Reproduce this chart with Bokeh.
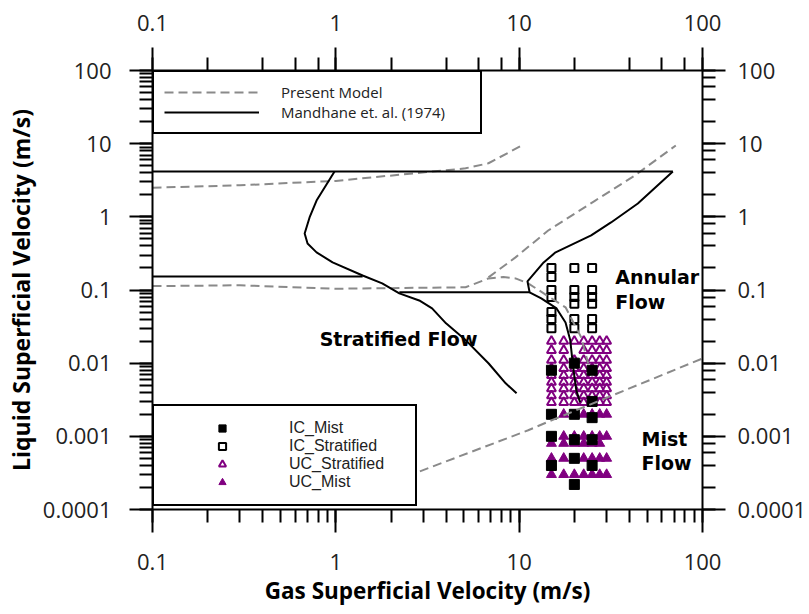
from bokeh.plotting import figure
from bokeh.models import (LogAxis, LogTicker, CustomJSTickFormatter, Legend,
                          LegendItem, Label)
from bokeh.embed import file_html
from bokeh.resources import INLINE

# ---------------- data ----------------
# Present model boundaries (grey dashed)
pm_upper_x = [0.1, 0.3, 1.0, 5.1, 6.8, 10.3]
pm_upper_y = [2.5, 2.7, 3.1, 4.6, 5.4, 9.4]
pm_lower_x = [0.1, 0.3, 1.0, 5.1, 6.8, 8.2, 9.55, 11.2, 17.9, 21.8, 23.8]
pm_lower_y = [0.113, 0.116, 0.104, 0.109, 0.144, 0.15, 0.144, 0.123, 0.058, 0.0225, 0.0099]
pm_annular_x = [6.8, 9.55, 14.4, 26.0, 42.8, 71.5]
pm_annular_y = [0.149, 0.279, 0.65, 1.67, 3.68, 9.45]
pm_mist_x = [1.5, 2.67, 11.2, 14.1, 100.0]
pm_mist_y = [1.7e-4, 3.1e-4, 1.21e-3, 1.55e-3, 0.0116]

# Mandhane et al. (1974) boundaries (solid black)
md_top_x = [0.1, 68.9]
md_top_y = [4.17, 4.17]
md_annular_x = [68.9, 44.4, 31.7, 24.7, 15.8, 13.6, 11.1, 11.4, 13.2, 16.0, 17.9, 19.0, 19.7, 20.5, 21.5]
md_annular_y = [4.17, 1.52, 0.838, 0.557, 0.327, 0.238, 0.131, 0.093, 0.0768, 0.056, 0.036, 0.0205, 0.00877, 0.00425, 0.00291]
md_wavy_x = [0.1, 1.40]
md_wavy_y = [0.153, 0.153]
md_strat_x = [2.22, 11.4]
md_strat_y = [0.093, 0.093]
md_bubble_x = [0.984, 0.785, 0.719, 0.676, 0.701, 0.785, 0.96, 1.40, 1.79, 2.22, 2.85, 3.35, 3.99, 5.12, 6.82, 8.44, 9.68]
md_bubble_y = [4.17, 1.67, 0.98, 0.593, 0.433, 0.327, 0.238, 0.158, 0.123, 0.090, 0.072, 0.056, 0.035, 0.0205, 0.0099, 0.0053, 0.00387]

# Experimental points
ic_strat_x = [15, 15, 15, 15, 15, 15, 15, 20, 20, 20, 20, 20, 20, 25, 25, 25, 25, 25, 25]
ic_strat_y = [0.2, 0.15, 0.1, 0.08, 0.05, 0.04, 0.03,
              0.2, 0.1, 0.08, 0.065, 0.04, 0.03,
              0.2, 0.1, 0.08, 0.065, 0.04, 0.03]

ic_mist_x = [20, 15, 25, 25, 15, 20, 25, 15, 20, 25, 20, 15, 25, 20]
ic_mist_y = [0.01, 0.008, 0.008, 0.003, 0.002, 0.002, 0.0018, 0.001, 0.0009, 0.0009,
             0.0005, 0.0004, 0.0004, 0.00022]

uc_strat_x = [15, 17.5, 20, 22.5, 25, 27.5, 30,
              15, 17.5, 22.5, 25, 27.5, 30,
              15, 17.5, 20, 22.5, 25, 27.5, 30,
              15, 17.5, 20, 22.5, 25, 27.5, 30,
              15, 17.5, 20, 22.5, 25, 27.5, 30,
              15, 17.5, 20, 22.5, 25, 27.5, 30,
              15, 17.5, 20, 22.5, 25, 27.5, 30,
              15, 17.5, 20, 22.5, 25, 27.5, 30,
              15, 17.5, 20, 22.5, 27.5, 30]
uc_strat_y = [0.02] * 7 + [0.015] * 6 + [0.011] * 7 + [0.0085] * 7 + [0.0068] * 7 + \
             [0.0055] * 7 + [0.0045] * 7 + [0.0036] * 7 + [0.0029] * 6

uc_mist_x = [17.5, 22.5, 25, 27.5, 30,
             17.5, 20, 22.5, 25, 27.5, 30,
             15, 17.5, 20, 22.5, 25, 27.5,
             15, 17.5, 22.5, 25, 27.5, 30,
             15, 17.5, 20, 22.5, 25, 27.5, 30]
uc_mist_y = [0.002] * 5 + [0.001] * 6 + [0.0008] * 6 + [0.0005] * 6 + [0.0003] * 7

# Region annotations
region_text = ["Stratified Flow", "Annular", "Flow", "Mist", "Flow"]
region_x = [0.816, 33.4, 33.4, 46.5, 46.5]
region_y = [0.0211, 0.149, 0.0677, 9.1e-4, 4.28e-4]

tick_font = "Open Sans"

# ---------------- figure ----------------
p = figure(width=809, height=614, x_axis_type="log", y_axis_type="log",
           x_range=(0.1, 100), y_range=(1e-4, 100),
           output_backend="svg", toolbar_location=None,
           min_border_left=152, min_border_top=70, min_border_right=104,
           min_border_bottom=105)
p.outline_line_color = None
p.xgrid.visible = False
p.ygrid.visible = False
p.background_fill_color = "white"

fmt_code = "return Number(tick.toPrecision(6)).toString();"


def style_axis(ax, standoff):
    ax.formatter = CustomJSTickFormatter(code=fmt_code)
    ax.axis_line_width = 2
    ax.axis_line_color = "black"
    ax.major_tick_line_width = 2
    ax.minor_tick_line_width = 2
    ax.major_tick_line_color = "black"
    ax.minor_tick_line_color = "black"
    ax.major_tick_out = 23
    ax.major_tick_in = 0
    ax.minor_tick_out = 13
    ax.minor_tick_in = 0
    ax.major_label_text_font = tick_font
    ax.major_label_text_font_size = "22px"
    ax.major_label_text_color = "#222222"
    ax.major_label_standoff = standoff


xb = p.below[0]
yl = p.left[0]
style_axis(xb, 21)
style_axis(yl, 18)
xb.axis_label = "Gas Superficial Velocity (m/s)"
yl.axis_label = "Liquid Superficial Velocity (m/s)"
for ax in (xb, yl):
    ax.axis_label_text_font = tick_font
    ax.axis_label_text_font_style = "bold"
    ax.axis_label_text_color = "black"
xb.axis_label_text_font_size = "22.5px"
yl.axis_label_text_font_size = "23px"
xb.axis_label_standoff = 2
yl.axis_label_standoff = 3

xt = LogAxis(ticker=LogTicker())
style_axis(xt, 17)
p.add_layout(xt, "above")
yr = LogAxis(ticker=LogTicker())
style_axis(yr, 12)
p.add_layout(yr, "right")

# ---------------- markers ----------------
r_ucs = p.scatter(uc_strat_x, uc_strat_y, marker="triangle", size=9,
                  line_color="#800080", line_width=2, fill_color=None)
r_ucm = p.scatter(uc_mist_x, uc_mist_y, marker="triangle", size=10,
                  line_color="#800080", line_width=1, fill_color="#800080")
r_ics = p.scatter(ic_strat_x, ic_strat_y, marker="square", size=8,
                  line_color="black", line_width=2, fill_color=None)
r_icm = p.scatter(ic_mist_x, ic_mist_y, marker="square", size=10,
                  line_color="black", line_width=1, fill_color="black")

# ---------------- lines ----------------
r_pm = p.multi_line([pm_upper_x, pm_lower_x, pm_annular_x, pm_mist_x],
                    [pm_upper_y, pm_lower_y, pm_annular_y, pm_mist_y],
                    line_color="#8a8a8a", line_width=2, line_dash="9 5")
r_md = p.multi_line([md_top_x, md_annular_x, md_wavy_x, md_strat_x, md_bubble_x],
                    [md_top_y, md_annular_y, md_wavy_y, md_strat_y, md_bubble_y],
                    line_color="black", line_width=2)

for t, x, y in zip(region_text, region_x, region_y):
    p.add_layout(Label(x=x, y=y, text=t, text_font="DejaVu Sans",
                       text_font_style="bold", text_font_size="19px",
                       text_color="black", text_baseline="middle",
                       text_align="left"))

# ---------------- legends ----------------
leg1 = Legend(items=[LegendItem(label="Present Model", renderers=[r_pm]),
                     LegendItem(label="Mandhane et. al. (1974)", renderers=[r_md])],
              location="top_left", margin=0, padding=10, spacing=0,
              glyph_width=95, glyph_height=18, label_height=18,
              label_standoff=22, label_width=189,
              label_text_font="Open Sans", label_text_font_size="15px",
              label_text_color="#222222",
              border_line_color="black", border_line_width=2,
              border_line_alpha=1.0,
              background_fill_color="white", background_fill_alpha=1.0)
leg2 = Legend(items=[LegendItem(label="IC_Mist", renderers=[r_icm]),
                     LegendItem(label="IC_Stratified", renderers=[r_ics]),
                     LegendItem(label="UC_Stratified", renderers=[r_ucs]),
                     LegendItem(label="UC_Mist", renderers=[r_ucm])],
              location=(0, 3), margin=0, padding=13, spacing=0,
              glyph_width=110, glyph_height=18, label_height=18,
              label_standoff=12, label_width=113,
              label_text_font="Liberation Sans", label_text_font_size="16px",
              label_text_color="#222222",
              border_line_color="black", border_line_width=2,
              border_line_alpha=1.0,
              background_fill_color="white", background_fill_alpha=1.0)
p.add_layout(leg1, "center")
p.add_layout(leg2, "center")

open("out.html", "w").write(file_html(p, INLINE))
